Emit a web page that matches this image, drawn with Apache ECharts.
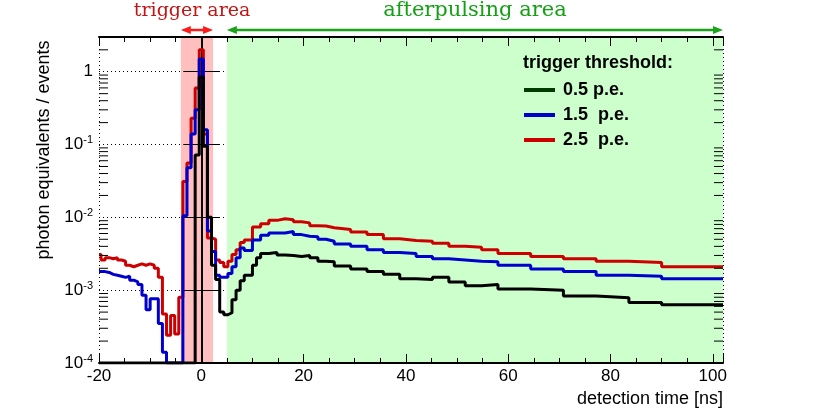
<!DOCTYPE html>
<html>
<head>
<meta charset="utf-8">
<script src="https://cdn.jsdelivr.net/npm/echarts@6/dist/echarts.min.js"></script>
<style>
  html, body { margin: 0; padding: 0; background: #fff; }
  #chart { width: 822px; height: 411px; }
</style>
</head>
<body>
<div id="chart"></div>
<script>
// histogram bin edges [ns] (0.8 ns bins, merged at late times)
const binEdges = [-20, -19.6, -18.8, -18, -17.2, -16.4, -15.6, -14.8, -14, -13.2, -12.4, -11.6, -10.8, -10,
  -9.2, -8.4, -7.6, -6.8, -6, -5.2, -4.4, -3.6, -2.8, -2, -1.2, -0.4,
  0.4, 1.2, 2, 2.8, 3.6, 4.4, 5.2, 6, 6.8, 7.6, 8.4, 9.2, 10, 10.8, 11.6,
  13.2, 14.8, 16.4, 18, 19.6, 21.2, 22.8, 24.4, 26,
  29.2, 32.4, 35.6, 38.8, 42, 45.2, 48.4, 51.6, 54.8, 58,
  64.4, 70.8, 77.2, 83.6, 90, 102];

// photon equivalents / events per bin
const thr05 = [0, 0, 0, 0, 0, 0, 0, 0, 0, 0, 0, 0, 0, 0, 0, 0, 0, 0, 0, 0, 0, 0, 0, 0,
  0.072, 0.85, 0.095, 0.010, 0.0022, 0.0014, 0.0005, 0.00046, 0.00049, 0.00074, 0.0010, 0.00135,
  0.0016, 0.0016, 0.0022, 0.0028,
  0.0032, 0.0033, 0.00305, 0.0030, 0.0029, 0.0030, 0.0028, 0.0025, 0.00245,
  0.00215, 0.00195, 0.0018, 0.00165, 0.00144, 0.0014, 0.0015, 0.0013, 0.00115, 0.0012,
  0.00104, 0.0010, 0.00083, 0.00079, 0.00068, 0.00063];
const thr15 = [0.0018, 0.0018, 0.00175, 0.00165, 0.0016, 0.00155, 0.0015, 0.00155, 0.00137, 0.0013,
  0.0012, 0.00085, 0.00054, 0.00076, 0.00076, 0.00035, 0.00014, 0, 0, 0, 0,
  0.0105, 0.048, 0.14, 0.30, 1.5, 0.16, 0.0065, 0.0034, 0.0016, 0.0015, 0.0015, 0.0017, 0.0021,
  0.0028, 0.0038, 0.0035, 0.0035, 0.0049, 0.0049,
  0.0057, 0.0061, 0.0061, 0.0064, 0.0058, 0.0055, 0.0054, 0.0050, 0.0047,
  0.0043, 0.0040, 0.0036, 0.0033, 0.0032, 0.0029, 0.0027, 0.0026, 0.0025, 0.00245,
  0.0022, 0.00195, 0.0018, 0.0016, 0.00155, 0.00144];
const thr25 = [0.0031, 0.0026, 0.0028, 0.0027, 0.0028, 0.0026, 0.0025, 0.0022, 0.0021, 0.0022,
  0.0023, 0.0022, 0.0023, 0.0022, 0.0020, 0.0015, 0.00047, 0.00024, 0.00045, 0.00025, 0.0008,
  0.031, 0.056, 0.23, 0.6, 2.0, 0.14, 0.0052, 0.0050, 0.0026, 0.0024, 0.0021, 0.0025, 0.0031,
  0.0036, 0.0045, 0.0049, 0.0049, 0.0074, 0.0074,
  0.0082, 0.0091, 0.0096, 0.0093, 0.0087, 0.0084, 0.0077, 0.0076, 0.0072,
  0.0068, 0.0063, 0.0058, 0.0051, 0.0048, 0.0047, 0.0044, 0.0040, 0.0039, 0.0036,
  0.0032, 0.0029, 0.0027, 0.0025, 0.0024, 0.0021];

const seriesNames = ['0.5 p.e.', '1.5  p.e.', '2.5  p.e.'];
const lineColors = ['#000000', '#0000cc', '#cc0000'];
const legendColors = ['#003c00', '#0000cc', '#cc0000'];

const yMinorTicks = [0.0002, 0.0003, 0.0004, 0.0005, 0.0006, 0.0007, 0.0008, 0.0009,
  0.002, 0.003, 0.004, 0.005, 0.006, 0.007, 0.008, 0.009,
  0.02, 0.03, 0.04, 0.05, 0.06, 0.07, 0.08, 0.09,
  0.2, 0.3, 0.4, 0.5, 0.6, 0.7, 0.8, 0.9, 2];

const triggerArea = [-4, 2.3];
const afterArea = [5, 102];

const X_MIN = -20, X_MAX = 102, Y_MIN = 1e-4, Y_MAX = 3;
const FONT = 'Liberation Sans, Arial, Helvetica, sans-serif';

// ROOT style: empty bins are drawn on the lower frame edge
function steps(vals) {
  const pts = vals.map((v, i) => [binEdges[i], Math.max(v, Y_MIN)]);
  pts.push([binEdges[binEdges.length - 1], Math.max(vals[vals.length - 1], Y_MIN)]);
  return pts;
}

function histSeries(name, vals, color) {
  return {
    name: name,
    type: 'line',
    step: 'end',
    symbol: 'none',
    data: steps(vals),
    lineStyle: { color: color, width: 3 },
    itemStyle: { color: color },
    z: 2
  };
}

function yLabel(v) {
  const l = Math.log10(v);
  const e = Math.round(l);
  if (Math.abs(l - e) > 1e-6) return '';
  return e === 0 ? '1' : '10{sup|' + e + '}';
}

const xMajor = {
  type: 'value', min: X_MIN, max: X_MAX, interval: 20, z: 1,
  axisLine: { show: true, lineStyle: { color: '#000', width: 2 } },
  axisTick: { show: true, inside: true, length: 9, lineStyle: { color: '#000', width: 1 } },
  splitLine: { show: false }
};
const xMinor = {
  type: 'value', min: X_MIN, max: X_MAX, interval: 5, z: 1,
  axisLine: { show: false },
  axisTick: { show: true, inside: true, length: 5, lineStyle: { color: '#000', width: 1 } },
  axisLabel: { show: false },
  splitLine: { show: false }
};
const yMajor = {
  type: 'log', logBase: 10, min: Y_MIN, max: Y_MAX, z: 1,
  axisLine: { show: true, lineStyle: { color: '#000', width: 2 } },
  axisTick: { show: true, inside: true, length: 18, lineStyle: { color: '#000', width: 1 } },
  splitLine: { show: false }
};

const option = {
  animation: false,
  backgroundColor: '#fff',
  grid: { left: 99, right: 99, top: 37, bottom: 48 },
  title: {
    text: 'trigger threshold:',
    left: 523, top: 54, padding: 0,
    textStyle: { fontFamily: FONT, fontSize: 18, fontWeight: 'bold', color: '#000' }
  },
  legend: {
    orient: 'vertical',
    left: 524, top: 81, padding: 0,
    itemWidth: 31, itemHeight: 4, itemGap: 7,
    icon: 'rect',
    selectedMode: false,
    textStyle: { fontFamily: FONT, fontSize: 18, fontWeight: 'bold', color: '#000', padding: [0, 0, 0, 3] },
    data: seriesNames.map((n, i) => ({ name: n, itemStyle: { color: legendColors[i] } }))
  },
  xAxis: [
    Object.assign({}, xMajor, {
      position: 'bottom',
      name: 'detection time [ns]', nameLocation: 'end', nameGap: 0,
      nameTextStyle: { fontFamily: FONT, fontSize: 18, color: '#000', align: 'right', verticalAlign: 'top', padding: [27, 0, 0, 0] },
      axisLabel: {
        fontFamily: FONT, fontSize: 17, color: '#000', margin: 5,
        formatter: v => (v % 20 === 0 ? String(v) : '')
      },
      splitLine: { show: true, lineStyle: { color: '#000', width: 1, type: [1, 3] } }
    }),
    Object.assign({}, xMinor, { position: 'bottom' }),
    Object.assign({}, xMajor, { position: 'top', axisLabel: { show: false } }),
    Object.assign({}, xMinor, { position: 'top' })
  ],
  yAxis: [
    Object.assign({}, yMajor, {
      position: 'left',
      name: 'photon equivalents / events', nameLocation: 'middle', nameGap: 46,
      nameMoveOverlap: false,
      nameTextStyle: { fontFamily: FONT, fontSize: 18, color: '#000', padding: [0, 0, 0, 100] },
      axisLabel: {
        fontFamily: FONT, fontSize: 17, color: '#000', margin: 6,
        formatter: yLabel,
        rich: { sup: { fontFamily: FONT, fontSize: 11, color: '#000', padding: [0, 0, 9, 0] } }
      },
      splitLine: { show: true, lineStyle: { color: '#000', width: 1, type: [1, 3] } }
    }),
    Object.assign({}, yMajor, { position: 'right', axisLabel: { show: false } })
  ],
  series: [
    {
      name: 'areas', type: 'line', data: [[X_MIN, Y_MIN]], symbol: 'none',
      lineStyle: { opacity: 0 }, silent: true, z: 0,
      markArea: {
        silent: true,
        data: [
          [{ xAxis: triggerArea[0], itemStyle: { color: '#ffbfbf' } }, { xAxis: triggerArea[1] }],
          [{ xAxis: afterArea[0], itemStyle: { color: '#ccffcc' } }, { xAxis: afterArea[1] }]
        ]
      }
    },
    histSeries(seriesNames[2], thr25, lineColors[2]),
    histSeries(seriesNames[1], thr15, lineColors[1]),
    histSeries(seriesNames[0], thr05, lineColors[0]),
    {
      name: 'minor ticks', type: 'custom', silent: true, z: 3,
      data: yMinorTicks.map(v => [X_MIN, v]),
      renderItem: function (params, api) {
        const v = api.value(1);
        const l = api.coord([X_MIN, v]);
        const r = api.coord([X_MAX, v]);
        const st = { stroke: '#000', lineWidth: 1 };
        return {
          type: 'group',
          children: [
            { type: 'line', shape: { x1: l[0], y1: l[1], x2: l[0] + 9, y2: l[1] }, style: st },
            { type: 'line', shape: { x1: r[0] - 9, y1: r[1], x2: r[0], y2: r[1] }, style: st }
          ]
        };
      }
    }
  ]
};

const chart = echarts.init(document.getElementById('chart'));
chart.setOption(option);

// area labels and arrows above the frame
const px = v => chart.convertToPixel({ xAxisIndex: 0 }, v);
const yTop = chart.convertToPixel({ yAxisIndex: 0 }, Y_MAX);
const arrowY = yTop - 7;

function arrow(x1, x2, color) {
  const h = 10, w = 4;
  return [
    { type: 'line', shape: { x1: x1 + h - 2, y1: arrowY, x2: x2 - h + 2, y2: arrowY }, style: { stroke: color, lineWidth: 2.5 } },
    { type: 'polygon', shape: { points: [[x1, arrowY], [x1 + h, arrowY - w], [x1 + h, arrowY + w]] }, style: { fill: color } },
    { type: 'polygon', shape: { points: [[x2, arrowY], [x2 - h, arrowY - w], [x2 - h, arrowY + w]] }, style: { fill: color } }
  ];
}

function areaText(text, x, size, color) {
  return {
    type: 'text', x: x, y: 11,
    style: { text: text, fill: color, font: size + 'px "DejaVu Serif", serif', align: 'center', verticalAlign: 'middle' }
  };
}

chart.setOption({
  graphic: [].concat(
    arrow(px(triggerArea[0]), px(triggerArea[1]), '#ff1a1a'),
    arrow(px(afterArea[0]), px(afterArea[1]), '#1aa31a'),
    [
      areaText('trigger area', px(-1.8), 19, '#c41414'),
      areaText('afterpulsing area', (px(afterArea[0]) + px(afterArea[1])) / 2, 21, '#14a014')
    ]
  )
});
</script>
</body>
</html>
